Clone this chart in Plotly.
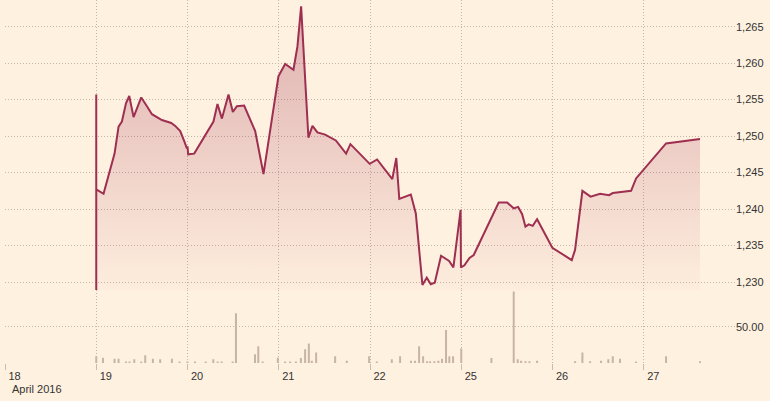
import plotly.graph_objects as go

# ---- data ----
price_time = [
    "2016-04-19 00:00", "2016-04-19 00:00", "2016-04-19 00:00", "2016-04-19 01:55",
    "2016-04-19 04:49", "2016-04-19 05:52", "2016-04-19 06:45", "2016-04-19 07:49",
    "2016-04-19 08:41", "2016-04-19 09:49", "2016-04-19 11:50", "2016-04-19 13:20",
    "2016-04-19 14:39", "2016-04-19 17:16", "2016-04-19 19:43", "2016-04-19 20:46",
    "2016-04-19 22:05", "2016-04-19 23:13", "2016-04-19 23:50", "2016-04-20 00:00",
    "2016-04-20 00:11", "2016-04-20 01:46", "2016-04-20 03:20", "2016-04-20 04:50",
    "2016-04-20 06:50", "2016-04-20 07:53", "2016-04-20 09:03", "2016-04-20 10:47",
    "2016-04-20 11:56", "2016-04-20 12:59", "2016-04-20 14:54", "2016-04-20 17:48",
    "2016-04-20 19:59", "2016-04-20 23:55", "2016-04-21 01:41", "2016-04-21 03:52",
    "2016-04-21 04:55", "2016-04-21 05:53", "2016-04-21 07:48", "2016-04-21 08:52",
    "2016-04-21 10:10", "2016-04-21 12:12", "2016-04-21 15:01", "2016-04-21 17:43",
    "2016-04-21 18:51", "2016-04-21 23:55", "2016-04-22 01:52", "2016-04-22 05:52",
    "2016-04-22 06:55", "2016-04-22 07:42", "2016-04-22 10:44", "2016-04-22 12:03",
    "2016-04-22 13:47", "2016-04-22 14:56", "2016-04-22 15:59", "2016-04-22 17:02",
    "2016-04-22 18:41", "2016-04-22 20:48", "2016-04-22 21:56", "2016-04-22 23:50",
    "2016-04-22 23:55", "2016-04-25 00:50", "2016-04-25 02:10", "2016-04-25 03:17",
    "2016-04-25 09:51", "2016-04-25 12:04", "2016-04-25 13:48", "2016-04-25 14:57",
    "2016-04-25 16:01", "2016-04-25 16:53", "2016-04-25 17:45", "2016-04-25 18:48",
    "2016-04-25 19:57", "2016-04-25 23:58", "2016-04-26 05:04", "2016-04-26 05:56",
    "2016-04-26 07:52", "2016-04-26 10:01", "2016-04-26 12:31", "2016-04-26 14:53",
    "2016-04-26 15:51", "2016-04-26 20:40", "2016-04-26 21:59", "2016-04-27 05:52",
    "2016-04-27 14:48",
]
price_value = [
    1255.7, 1228.9, 1242.7, 1242.1,
    1247.6, 1251.3, 1252.0, 1254.5,
    1255.5, 1252.6, 1255.3, 1254.1,
    1253.0, 1252.2, 1251.8, 1251.4,
    1250.7, 1249.2, 1248.3, 1248.6,
    1247.5, 1247.6, 1249.0, 1250.4,
    1252.0, 1254.4, 1252.4, 1255.7,
    1253.3, 1254.1, 1254.2, 1250.7,
    1244.8, 1258.2, 1259.9, 1259.1,
    1262.3, 1267.8, 1249.8, 1251.4,
    1250.5, 1250.2, 1249.4, 1247.6,
    1248.9, 1246.2, 1246.8, 1244.1,
    1247.0, 1241.4, 1242.0, 1239.4,
    1229.6, 1230.6, 1229.7, 1229.9,
    1233.6, 1232.9, 1232.0, 1239.9,
    1232.0, 1232.3, 1233.3, 1233.7,
    1240.9, 1240.9, 1240.1, 1240.3,
    1239.3, 1237.6, 1237.9, 1237.7,
    1238.6, 1234.7, 1233.0, 1234.4,
    1242.5, 1241.7, 1242.1, 1241.9,
    1242.2, 1242.5, 1244.2, 1249.0,
    1249.6,
]

volume_time = [
    "2016-04-19 00:00", "2016-04-19 01:46", "2016-04-19 04:49", "2016-04-19 05:52",
    "2016-04-19 07:49", "2016-04-19 08:45", "2016-04-19 10:00", "2016-04-19 11:50",
    "2016-04-19 12:53", "2016-04-19 14:54", "2016-04-19 16:49", "2016-04-19 19:54",
    "2016-04-19 21:54", "2016-04-20 00:00", "2016-04-20 01:58", "2016-04-20 04:47",
    "2016-04-20 06:47", "2016-04-20 07:56", "2016-04-20 08:59", "2016-04-20 11:53",
    "2016-04-20 12:45", "2016-04-20 17:45", "2016-04-20 18:37", "2016-04-20 19:46",
    "2016-04-20 23:46", "2016-04-21 01:41", "2016-04-21 03:00", "2016-04-21 04:30",
    "2016-04-21 05:49", "2016-04-21 06:56", "2016-04-21 07:55", "2016-04-21 08:42",
    "2016-04-21 09:50", "2016-04-21 14:50", "2016-04-21 17:54", "2016-04-21 23:46",
    "2016-04-22 01:47", "2016-04-22 05:44", "2016-04-22 07:55", "2016-04-22 10:48",
    "2016-04-22 11:51", "2016-04-22 12:55", "2016-04-22 13:58", "2016-04-22 15:01",
    "2016-04-22 15:48", "2016-04-22 16:56", "2016-04-22 17:59", "2016-04-22 18:57",
    "2016-04-22 20:00", "2016-04-22 20:52", "2016-04-22 21:51", "2016-04-25 00:00",
    "2016-04-25 07:56", "2016-04-25 13:48", "2016-04-25 14:51", "2016-04-25 15:45",
    "2016-04-25 16:53", "2016-04-25 17:56", "2016-04-25 19:57", "2016-04-26 05:56",
    "2016-04-26 07:52", "2016-04-26 09:53", "2016-04-26 12:46", "2016-04-26 14:41",
    "2016-04-26 15:51", "2016-04-26 17:46", "2016-04-26 21:59", "2016-04-27 05:52",
    "2016-04-27 14:48",
]
volume_value = [
    9.3, 7.4, 6.0, 6.0,
    1.4, 1.4, 5.1, 1.4,
    10.6, 6.0, 5.1, 6.0,
    1.4, 2.0, 1.4, 1.4,
    5.1, 1.4, 1.4, 1.4,
    68.5, 12.0, 23.1, 1.4,
    7.4, 1.4, 1.4, 1.4,
    6.9, 19.0, 26.9, 3.2,
    14.4, 9.3, 3.2, 9.3,
    1.0, 5.1, 9.3, 3.2,
    3.2, 23.1, 9.3, 2.3,
    2.3, 2.3, 3.2, 6.0,
    45.4, 9.3, 9.3, 19.9,
    6.9, 98.6, 5.1, 3.2,
    2.3, 2.3, 3.2, 2.3,
    14.4, 2.3, 3.2, 5.1,
    9.3, 6.0, 1.0, 9.3,
    2.3,
]

day_ticks = ["2016-04-18", "2016-04-19", "2016-04-20", "2016-04-21",
             "2016-04-22", "2016-04-25", "2016-04-26", "2016-04-27"]
day_labels = ["18", "19", "20", "21", "22", "25", "26", "27"]
price_ticks = [1230, 1235, 1240, 1245, 1250, 1255, 1260, 1265]
volume_ticks = [50]
month_label = "April 2016"

# ---- styling ----
BG = "#fff1e0"
LINE = "#9e2f50"
GRID = "#c2b6a9"
TICK = "#c8bcb0"
TXT = "#333333"
FONT = "Liberation Sans, Arial, sans-serif"
DOTS = "1px,2px"

fig = go.Figure()
fig.add_trace(go.Scatter(
    x=price_time, y=price_value, mode="lines", xaxis="x", yaxis="y",
    line=dict(color=LINE, width=2),
    fill="tozeroy",
    fillgradient=dict(type="vertical",
                      colorscale=[[0, "rgba(158,47,80,0.02)"],
                                  [1, "rgba(158,47,80,0.34)"]],
                      start=1229, stop=1268),
    hoverinfo="skip", showlegend=False,
))
fig.add_trace(go.Bar(
    x=volume_time, y=volume_value, xaxis="x", yaxis="y2",
    marker=dict(color="#c6b5a3", line=dict(width=0)),
    width=1.9e6, hoverinfo="skip", showlegend=False,
))

fig.update_layout(
    template="none",
    width=770, height=401,
    paper_bgcolor=BG, plot_bgcolor=BG,
    margin=dict(l=5, r=35, t=0, b=38, autoexpand=False),
    font=dict(family=FONT, size=11, color=TXT),
    showlegend=False,
    xaxis=dict(
        type="date", anchor="y2",
        range=["2016-04-18", "2016-04-28"],
        rangebreaks=[dict(bounds=["sat", "mon"])],
        tickvals=day_ticks, ticktext=day_labels,
        showgrid=True, gridcolor=GRID, griddash=DOTS, gridwidth=1,
        ticks="outside", ticklen=6, tickcolor=TICK, tickwidth=1,
        ticklabelposition="outside right", ticklabelshift=3,
        ticklabelstandoff=3,
        tickfont=dict(family=FONT, size=11, color=TXT),
        showline=False, zeroline=False, automargin=False,
    ),
    yaxis=dict(
        domain=[0.2, 1], range=[1228.85, 1268.66], side="right", anchor="x",
        tickvals=price_ticks, tickformat=",",
        showgrid=True, gridcolor=GRID, griddash=DOTS, gridwidth=1,
        ticks="", showline=False, zeroline=False, automargin=False,
        tickfont=dict(family=FONT, size=11, color=TXT),
    ),
    yaxis2=dict(
        domain=[0, 0.2], range=[0, 100], side="right", anchor="x",
        tickvals=volume_ticks, tickformat=".2f",
        showgrid=True, gridcolor=GRID, griddash=DOTS, gridwidth=1,
        ticks="", showline=False, zeroline=False, automargin=False,
        tickfont=dict(family=FONT, size=11, color=TXT),
    ),
    annotations=[dict(
        text=month_label, xref="paper", yref="paper",
        x=5 / 730, y=(363 - 389) / 363, xanchor="left", yanchor="middle",
        showarrow=False, font=dict(family=FONT, size=11, color=TXT),
    )],
)

fig.write_html(
    "out.html",
    config={"displayModeBar": False},
    post_script="document.body.style.margin='0';document.body.style.background='#fff1e0';",
)
